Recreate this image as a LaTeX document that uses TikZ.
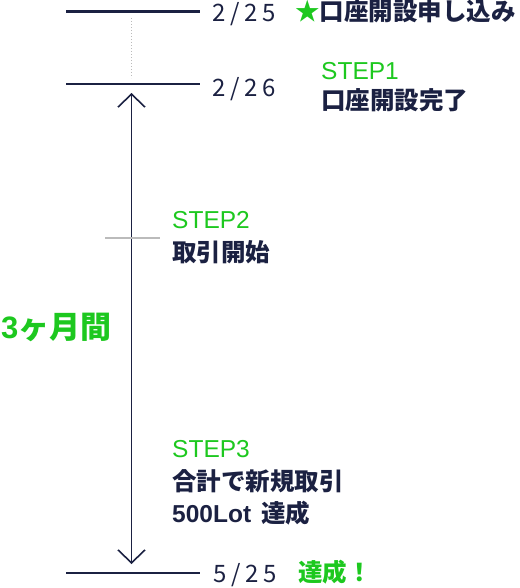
\documentclass[tikz,border=0pt]{standalone}
\usepackage{fontspec}
\setmainfont{Noto Sans CJK JP}
\newfontfamily\datefont[LetterSpace=20]{Noto Sans CJK JP}
\newfontfamily\latinfont{Liberation Sans}
\usetikzlibrary{arrows.meta}
\definecolor{navy}{HTML}{1B2142}
\definecolor{okgreen}{HTML}{1DC81F}
\definecolor{tickgray}{HTML}{BBBBBB}

\begin{document}
\begin{tikzpicture}[
    x=1pt, y=-1pt,
    markline/.style={draw=navy, line width=2.6pt},
    date/.style={anchor=base west, inner sep=0pt, text=navy, font=\datefont\fontsize{24}{24}\selectfont},
    steplabel/.style={anchor=base west, inner sep=0pt, text=okgreen, font=\latinfont\fontsize{24.5}{24.5}\selectfont},
    jptext/.style={anchor=base west, inner sep=0pt, text=navy, font=\bfseries\fontsize{24.5}{24.5}\selectfont}
]
\useasboundingbox (0,0) rectangle (519,588);

% date marks
\coordinate (apply-l) at (66,11.5);
\coordinate (apply-r) at (200,11.5);
\coordinate (open-l) at (66,84);
\coordinate (open-r) at (200,84);
\coordinate (goal-l) at (66,573);
\coordinate (goal-r) at (200,573);
\draw[markline] (apply-l) -- (apply-r);
\draw[markline] (open-l) -- (open-r);
\draw[markline] (goal-l) -- (goal-r);

% gap and span
\coordinate (gap-top) at (131.5,18);
\coordinate (gap-bot) at (131.5,78);
\draw[tickgray, line width=1pt, dotted] (gap-top) -- (gap-bot);
\coordinate (span-top) at (131.5,93);
\coordinate (span-bot) at (131.5,564);
\draw[navy, line width=1.6pt, {Straight Barb[length=13pt,width=27pt]}-{Straight Barb[length=13pt,width=27pt]}] (span-top) -- (span-bot);
\coordinate (mid-l) at (105,238);
\coordinate (mid-r) at (160,238);
\draw[tickgray, line width=1.6pt] (mid-l) -- (mid-r);

% texts
\node[date] (d-apply) at (212,22) {2/25};
\node[jptext] (t-apply) at (295,21) {\textcolor{okgreen}{★}口座開設申し込み};
\node[date] (d-open) at (212,97) {2/26};
\node[steplabel] (s1) at (321,80) {STEP1};
\node[jptext] (t1) at (321,110) {口座開設完了};
\node[steplabel] (s2) at (172,228) {STEP2};
\node[jptext] (t2) at (172,261) {取引開始};
\node[anchor=base west, inner sep=0pt, text=okgreen, font=\bfseries\fontsize{31}{31}\selectfont] (span) at (1,338) {{\latinfont 3}ヶ月間};
\node[steplabel] (s3) at (172,457) {STEP3};
\node[jptext] (t3a) at (172,490) {合計で新規取引};
\node[jptext] (t3b) at (172,522) {{\latinfont 500Lot}\hspace{10pt}達成};
\node[date] (d-goal) at (213,582) {5/25};
\node[jptext, text=okgreen] (t-goal) at (298,581) {達成！};
\end{tikzpicture}
\end{document}
